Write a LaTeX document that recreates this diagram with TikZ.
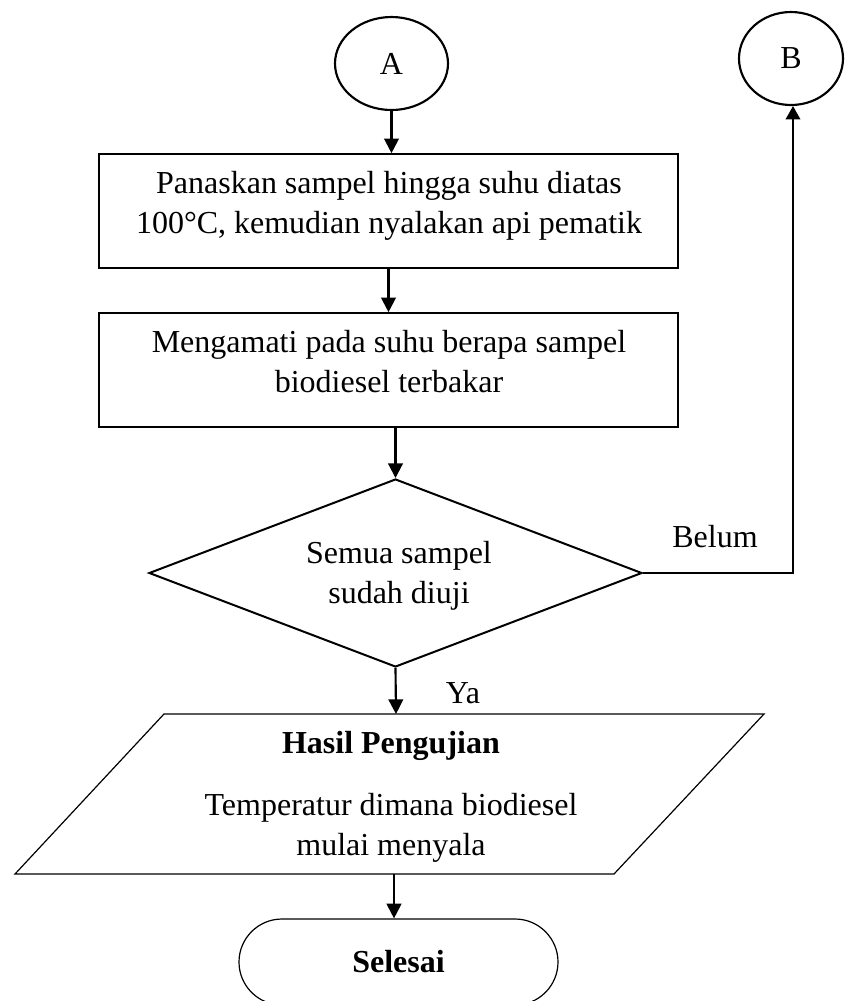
\documentclass[tikz,border=0pt]{standalone}
\usepackage{fontspec}
\setmainfont{Liberation Serif}
\usetikzlibrary{arrows.meta,shapes.geometric,shapes.misc}
\begin{document}
\begin{tikzpicture}[x=0.75pt,y=-0.75pt,
  every node/.style={font=\fontsize{24}{30}\selectfont},
  proc/.style={draw, line width=1.2pt, minimum width=434.25pt, minimum height=85.5pt, inner sep=0pt},
  conn/.style={draw, ellipse, line width=1.6pt, inner sep=0pt, minimum height=69.75pt},
  decide/.style={draw, diamond, line width=1.5pt, inner sep=0pt, minimum width=369.75pt, minimum height=141pt},
  term/.style={draw, rounded rectangle, line width=0.9pt, inner sep=0pt, minimum width=239.25pt, minimum height=64.5pt},
  txt/.style={align=center, inner sep=0pt},
  flow/.style={line width=1.6pt, -{Triangle[length=11pt,width=11pt]}},
  link/.style={line width=1.1pt, -{Triangle[length=10pt,width=11pt]}}]
\useasboundingbox (0,0) rectangle (844,1001);
\clip (0,0) rectangle (844,1001);

% connectors on page
\node[conn, minimum width=84.75pt] (A) at (391.5,63.5) {A};
\node[conn, minimum width=78pt] (B) at (791,58.5) {B};

% process steps
\node[proc] (b1) at (388.5,211) {};
\node[txt] (b1t) at (389,206) {Panaskan sampel hingga suhu diatas\\100°C, kemudian nyalakan api pematik};
\node[proc] (b2) at (388.5,370) {};
\node[txt] (b2t) at (389,362) {Mengamati pada suhu berapa sampel\\biodiesel terbakar};

% decision
\node[decide] (dec) at (395.5,573) {};
\node[txt] (dect) at (399,575.5) {Semua sampel\\sudah diuji};

% output (parallelogram)
\draw[line width=0.9pt] (164,714) -- (764,714) -- (614,874) -- (15,874) -- cycle;
\coordinate (pTop) at (396,714);
\coordinate (pBot) at (394,874);
\node[txt] (res) at (391,796.5) {\textbf{Hasil Pengujian}\\[16.5pt]Temperatur dimana biodiesel\\mulai menyala};

% terminator
\node[term] (end) at (398.5,962) {\textbf{Selesai}};

% labels
\node (belum) at (715,537) {Belum};
\node (ya) at (463,693) {Ya};

% flow lines
\draw[flow] (A.south) -- (A.south |- b1.north);
\draw[flow] (b1.south) -- (b2.north);
\draw[flow] (b2.south -| dec.north) -- (dec.north);
\draw[flow] (dec.south) -- (pTop);
\draw[flow] (pBot) -- (pBot |- end.north);
\draw[link] (dec.east) -| (793,573) -- (B.south -| 793,0);
\end{tikzpicture}
\end{document}
